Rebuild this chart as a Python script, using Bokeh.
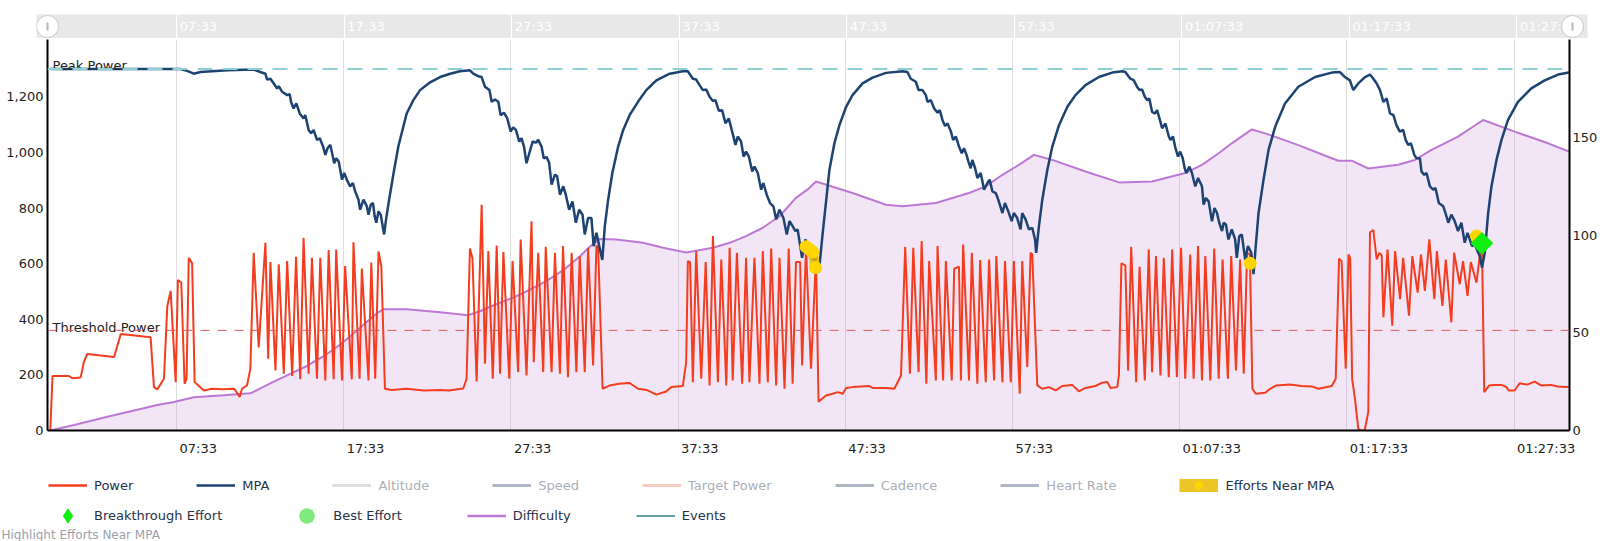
from math import pi
from bokeh.plotting import figure
from bokeh.models import (Range1d, LinearAxis, FixedTicker, NumeralTickFormatter,
                          Legend, LegendItem, Span, Label)
from bokeh.layouts import column
from bokeh.embed import file_html
from bokeh.resources import INLINE
from bokeh.core.properties import value

FONT = "DejaVu Sans"
FS = 13

# ---------------- data ----------------
tick_seconds = [453, 1053, 1653, 2253, 2853, 3453, 4053, 4653, 5253]
tick_labels = ["07:33", "17:33", "27:33", "37:33", "47:33", "57:33",
               "01:07:33", "01:17:33", "01:27:33"]
power_ticks = [0, 200, 400, 600, 800, 1000, 1200]
diff_ticks = [0, 50, 100, 150]
x_start, x_end = -10, 5452
power_max = 1406
diff_max = 200
peak_power = 1300
threshold_power = 360

power_t = [0, 8, 67, 79, 109, 121, 133, 229, 253, 360, 372, 384, 408, 420, 432, 450, 458, 470, 482, 489,
           497, 509, 518, 551, 580, 617, 660, 680, 688, 706, 718,
           730, 748, 772, 782, 790, 808, 820, 838, 850, 868, 882, 897, 909, 927, 939, 957, 969, 987, 999,
           1017, 1026, 1047, 1058, 1082, 1088, 1110, 1118, 1142, 1152, 1166, 1178, 1188, 1201,
           1225, 1279, 1340, 1399, 1430, 1482, 1494,
           1506, 1515, 1530, 1548, 1560, 1572, 1588, 1602, 1614, 1626, 1647, 1659, 1679, 1688, 1709, 1727,
           1735, 1751, 1769, 1778, 1799, 1811, 1829, 1840, 1858, 1871, 1888, 1900, 1918, 1930, 1948, 1960,
           1966, 1982,
           2008, 2040, 2079, 2109, 2140, 2175, 2210, 2229, 2270, 2282,
           2288, 2296, 2306, 2318, 2336, 2352, 2366, 2378, 2396, 2408, 2426, 2438, 2449, 2464, 2483, 2497,
           2509, 2527, 2545, 2557, 2575, 2587, 2605, 2617, 2635, 2650, 2664, 2676, 2691, 2698, 2712, 2730,
           2748, 2757,
           2784, 2808, 2826, 2844, 2856, 2879, 2939, 2951, 2999, 3029, 3053,
           3068, 3085, 3097, 3116, 3127, 3144, 3154, 3178, 3184, 3204, 3214, 3235, 3244, 3261, 3268, 3276,
           3297, 3307, 3327, 3337, 3357, 3369, 3387, 3395, 3417, 3426, 3447, 3458, 3479, 3488, 3506, 3518,
           3524, 3542,
           3560, 3584, 3608, 3632, 3667, 3691, 3715, 3751, 3775, 3793, 3805, 3829, 3835,
           3844, 3858, 3868, 3879, 3897, 3909, 3928, 3942, 3954, 3968, 3984, 3996, 4014, 4026, 4043, 4058,
           4073, 4091, 4103, 4119, 4133, 4145, 4163, 4177, 4193, 4207, 4226, 4238, 4255, 4270, 4283, 4295,
           4305, 4314, 4326,
           4360, 4378, 4400, 4449, 4490, 4530, 4551, 4599, 4613,
           4625, 4634, 4649, 4659, 4665, 4672, 4682, 4694, 4703, 4717, 4730, 4736, 4748, 4760, 4770, 4778,
           4784, 4799, 4816, 4826, 4844, 4855, 4876, 4888, 4907, 4919, 4933, 4949, 4967, 4976, 4996, 5008,
           5028, 5038, 5058, 5070, 5086, 5098, 5118, 5130, 5138, 5146,
           5164, 5180, 5208, 5226, 5234, 5255, 5273, 5300, 5327, 5350, 5385, 5410, 5435, 5450]
power_w = [0, 196, 196, 188, 191, 248, 275, 264, 347, 335, 156, 148, 186, 448, 502, 174, 541, 532, 168, 186,
           621, 601, 174, 144, 150, 148, 150, 121, 150, 162, 222,
           639, 299, 675, 258, 606, 216, 598, 204, 609, 196, 625, 184, 693, 204, 621, 186, 621, 180, 649,
           184, 651, 180, 591, 184, 677, 186, 582, 180, 604, 186, 644, 590, 150,
           146, 150, 144, 146, 144, 151, 186,
           654, 620, 176, 812, 240, 645, 186, 665, 204, 642, 186, 609, 210, 687, 198, 752,
           246, 639, 210, 661, 210, 639, 204, 663, 192, 639, 210, 627, 210, 657, 234, 665,
           660, 150,
           162, 168, 171, 150, 146, 129, 140, 156, 160, 246,
           609, 605, 174, 645, 186, 606, 162, 699, 174, 615, 162, 657, 180, 639, 168, 621,
           174, 621, 168, 645, 174, 654, 162, 621, 150, 654, 168, 606, 606, 234, 657, 222,
           627, 103,
           126, 132, 138, 132, 153, 156, 160, 153, 153, 150, 198,
           661, 204, 657, 210, 681, 168, 609, 180, 663, 180, 609, 180, 582, 589, 180, 669,
           180, 639, 168, 613, 174, 615, 180, 627, 174, 609, 174, 609, 132, 609, 228, 639,
           633, 162,
           150, 156, 144, 160, 164, 141, 153, 160, 172, 174, 153, 156, 198,
           601, 594, 216, 661, 174, 589, 180, 651, 210, 627, 198, 621, 192, 651, 192, 657,
           186, 633, 186, 663, 180, 627, 180, 654, 186, 615, 186, 627, 216, 615, 204, 639,
           633, 150, 132,
           136, 150, 162, 165, 160, 158, 150, 160, 186,
           618, 609, 222, 633, 620, 186, 114, 7, 0, 0, 67, 713, 721, 615, 639, 630,
           407, 651, 377, 645, 472, 621, 413, 627, 496, 633, 502, 687, 472, 645, 448, 615,
           389, 639, 526, 609, 484, 606, 532, 627, 663, 138,
           162, 164, 164, 156, 144, 144, 170, 165, 176, 162, 164, 158, 156, 156]

mpa_t = [0, 467, 491, 515, 539, 635, 730,
         754, 772, 778, 790, 802, 814, 820, 832, 850, 859, 864, 873, 883, 895, 909, 915, 927, 936, 945,
         957, 967, 979, 987, 995, 1005, 1014, 1019, 1026, 1035, 1047, 1055, 1064, 1076, 1086, 1094,
         1106, 1112, 1124, 1136, 1142, 1150, 1158, 1164, 1170, 1178, 1186, 1198,
         1205, 1214, 1232, 1249, 1261, 1279, 1303, 1327,
         1363, 1399, 1435, 1470, 1506, 1518, 1536, 1548, 1560, 1576, 1584, 1596, 1608, 1616, 1628, 1640,
         1652, 1661, 1671, 1683, 1691, 1700, 1709, 1719, 1731, 1743, 1751, 1763, 1771, 1781, 1790, 1799,
         1811, 1819, 1829, 1841, 1850, 1862, 1874, 1886, 1898, 1910, 1918, 1930, 1942, 1950, 1960, 1970,
         1981, 1990, 2002, 2017, 2038, 2056, 2079, 2109, 2139, 2175, 2223, 2270, 2288, 2306, 2318, 2330,
         2342, 2354, 2366, 2378, 2387, 2399, 2411, 2423, 2435, 2450, 2459, 2467, 2479, 2488, 2497, 2507,
         2519, 2527, 2539, 2551, 2559, 2571, 2583, 2595, 2605, 2617, 2631, 2643, 2653, 2664, 2674, 2682,
         2698, 2710, 2724, 2736, 2746, 2758, 2772, 2786, 2796,
         2814, 2832, 2856, 2879, 2915, 2951, 2999, 3059, 3076, 3088, 3106, 3116, 3130, 3142, 3148, 3160,
         3172, 3184, 3192, 3202, 3211, 3220, 3232, 3240, 3250, 3261, 3271, 3279, 3288, 3295, 3303, 3309,
         3319, 3327, 3339, 3345, 3351, 3363, 3371, 3381, 3393, 3402, 3417, 3426, 3438, 3450, 3458, 3470,
         3482, 3488, 3500, 3512, 3524, 3534, 3538, 3548, 3560, 3578, 3596, 3620, 3650, 3679, 3715, 3763,
         3811, 3847, 3858, 3876, 3888, 3900, 3909, 3918, 3928, 3936, 3944, 3954, 3964, 3972, 3984, 3990,
         4002, 4014, 4020, 4029, 4038, 4047, 4055, 4064, 4071, 4077, 4088, 4097, 4109, 4119,
         4133, 4139, 4147, 4157, 4169, 4178, 4187, 4195, 4205, 4211, 4219, 4228, 4240, 4252, 4258, 4267,
         4276, 4288, 4298, 4310, 4318, 4326, 4336, 4354, 4372, 4396, 4431, 4479, 4539, 4599, 4628, 4646,
         4664, 4676, 4694, 4718, 4736, 4748, 4760, 4772, 4784, 4796, 4808, 4820, 4831, 4843, 4855, 4864,
         4873, 4883, 4895, 4903, 4915, 4921, 4931, 4939, 4951, 4963, 4971, 4983, 4999, 5007, 5017, 5028,
         5040, 5052, 5064, 5076, 5086, 5094, 5102, 5112, 5130, 5138, 5148, 5160, 5172, 5190, 5208, 5231,
         5267, 5315, 5363, 5411, 5450]
mpa_w = [1300, 1300, 1293, 1283, 1289, 1295, 1298,
         1289, 1283, 1262, 1265, 1248, 1230, 1238, 1218, 1206, 1209, 1182, 1158, 1176, 1140, 1122, 1134,
         1081, 1069, 1081, 1045, 1051, 1021, 991, 1015, 1027, 985, 961, 979, 967, 902, 926, 902, 878, 890,
         860, 830, 794, 830, 806, 776, 812, 818, 771, 747, 788, 776, 705,
         759, 818, 926, 1021, 1069, 1140, 1188, 1224,
         1252, 1271, 1283, 1292, 1295, 1283, 1274, 1271, 1236, 1224, 1182, 1190, 1182, 1134, 1143, 1122,
         1075, 1090, 1081, 1039, 1051, 1021, 961, 997, 1039, 1035, 1045, 1021, 979, 983, 964, 884,
         920, 914, 848, 878, 848, 794, 824, 747, 794, 776, 705, 764, 764, 663, 711, 663,
         613, 735, 830, 926, 1021, 1081, 1134, 1182, 1224, 1259, 1283, 1292, 1292, 1265, 1262, 1242,
         1224, 1226, 1200, 1185, 1188, 1150, 1152, 1105, 1122, 1063, 1027, 1057, 1039, 985, 1003, 985,
         931, 949, 926, 866, 890, 848, 818, 806, 759, 794, 764, 705, 753, 735, 717, 723,
         621, 687, 639, 615, 615, 568, 711, 842, 937,
         1033, 1098, 1164, 1206, 1248, 1269, 1286, 1292, 1289, 1265, 1254, 1224, 1224, 1206, 1182, 1188,
         1158, 1143, 1152, 1116, 1095, 1104, 1075, 1045, 1057, 1021, 997, 1015, 991, 967, 943, 973,
         943, 908, 926, 896, 866, 890, 902, 860, 854, 830, 782, 818, 788, 753, 782, 764,
         723, 782, 759, 723, 729, 687, 639, 735, 830, 937, 1021, 1098, 1164, 1206, 1242, 1271,
         1287, 1292, 1289, 1265, 1260, 1236, 1224, 1226, 1200, 1188, 1194, 1146, 1140, 1152, 1110, 1087,
         1104, 1057, 1045, 1057, 1015, 985, 1003, 979, 943, 926, 949, 926, 878, 908,
         878, 812, 836, 824, 752, 800, 782, 747, 717, 747, 741, 687, 723, 687, 621, 699,
         705, 615, 663, 639, 562, 663, 782, 902, 1009, 1093, 1176, 1236, 1271, 1287, 1289, 1271,
         1259, 1224, 1248, 1271, 1280, 1265, 1248, 1224, 1182, 1194, 1140, 1134, 1098, 1075, 1081, 1045,
         1027, 1033, 991, 979, 979, 931, 919, 926, 878, 866, 872, 818, 806, 782, 747, 776,
         753, 717, 747, 675, 711, 687, 663, 669, 627, 586, 639, 782, 878, 973, 1045, 1116,
         1182, 1230, 1259, 1280, 1287]

diff_t = [0, 85, 205, 324, 384, 444, 515, 623, 718, 802, 861, 921, 981, 1041, 1100, 1148, 1172, 1196,
          1279, 1399, 1500, 1542, 1602, 1661, 1721, 1781, 1841, 1900, 1936, 1972, 2032, 2127, 2199, 2282,
          2378, 2438, 2497, 2557, 2617, 2676, 2724, 2748, 2879, 2999, 3059, 3178, 3297, 3357, 3417, 3476,
          3530, 3596, 3715, 3835, 3954, 4073, 4133, 4193, 4240, 4312, 4360, 4479, 4622, 4670, 4730, 4837,
          4897, 4957, 5052, 5112, 5142, 5255, 5375, 5450]
diff_v = [0, 2.8, 7, 11, 13, 14.6, 17, 18, 19, 25, 29, 33, 38, 44, 51, 57, 60, 62,
          62, 60.5, 59, 61, 64.7, 68, 72, 76.5, 82, 89, 94, 98, 97.7, 96, 93.5, 91,
          93.5, 96, 99.4, 103.7, 109.6, 119, 124, 127.4, 121.5, 115.5, 114.7, 116.4, 121.5, 124.9, 130.8, 135.9,
          141, 138.4, 132.5, 126.9, 127.4, 131.7, 135.9, 141.8, 146.9, 154, 152, 146, 138, 138, 134, 135.9,
          138.4, 143.5, 150.3, 156, 158.8, 152.9, 146.9, 142.7]

near_t = [2712, 2724, 2736, 2746, 4306, 5118]
near_w = [661, 652, 642, 586, 601, 699]
near_run_t = [[2712, 2724, 2736, 2746]]
near_run_w = [[661, 652, 642, 586]]
break_t = [5138]
break_w = [673]

# ---------------- styles ----------------
C_POWER = "#f43c1e"
C_MPA = "#1d4373"
C_DIFF = "#bd78d6"
C_NEAR_LINE = "#e8bc00"
C_NEAR_PT = "#ffd500"
C_BREAK = "#11ee11"
C_BEST = "#80ea80"
C_EVENTS = "#2f7f8e"

# ---------------- layout constants ----------------
W = 1600
BL, BR = 47, 28
NAV_H, MAIN_H, LEG_H = 38, 420, 83
frame_w = W - BL - BR
s_per_px = (x_end - x_start) / frame_w


def text_width(s):
    return sum(0.636 * FS if ch.isdigit() else 0.337 * FS for ch in s)


# label anchors: labels start 3px right of their gridline
label_pos = [round(t + (3 + text_width(l) / 2) * s_per_px) for t, l in zip(tick_seconds, tick_labels)]


def style_axis(ax, standoff):
    ax.axis_line_color = "black"
    ax.axis_line_width = 2
    ax.major_tick_line_color = None
    ax.minor_tick_line_color = None
    ax.major_tick_out = 0
    ax.major_tick_in = 0
    ax.minor_tick_out = 0
    ax.minor_tick_in = 0
    ax.major_label_standoff = standoff
    ax.major_label_text_font = FONT
    ax.major_label_text_font_size = f"{FS}px"
    ax.major_label_text_color = "#222222"


# ---------------- main figure ----------------
p = figure(width=W, height=MAIN_H, x_range=Range1d(x_start, x_end), y_range=Range1d(0, power_max),
           output_backend="svg", toolbar_location=None,
           min_border_left=BL, min_border_right=BR, min_border_top=1, min_border_bottom=26)
p.frame_align = False
p.outline_line_color = None
p.background_fill_color = "white"
p.border_fill_color = "white"
p.extra_y_ranges = {"diff": Range1d(0, diff_max)}

xa = p.xaxis[0]
xa.ticker = FixedTicker(ticks=label_pos)
xa.major_label_overrides = {pos: lab for pos, lab in zip(label_pos, tick_labels)}
style_axis(xa, 10)

ya = p.yaxis[0]
ya.ticker = FixedTicker(ticks=power_ticks)
ya.formatter = NumeralTickFormatter(format="0,0")
style_axis(ya, 4)

ra = LinearAxis(y_range_name="diff", ticker=FixedTicker(ticks=diff_ticks))
style_axis(ra, 3)
p.add_layout(ra, "right")

p.xgrid.ticker = FixedTicker(ticks=tick_seconds)
p.xgrid.grid_line_color = "#dedede"
p.xgrid.grid_line_width = 1
p.ygrid.visible = False

p.varea(x=diff_t, y1=[0] * len(diff_t), y2=diff_v, y_range_name="diff",
        fill_color="#c58fd6", fill_alpha=0.22)
p.line(diff_t, diff_v, y_range_name="diff", line_color=C_DIFF, line_width=2)
p.line(power_t, power_w, line_color=C_POWER, line_width=2)
p.line(mpa_t, mpa_w, line_color=C_MPA, line_width=2.5)

p.add_layout(Span(location=peak_power, dimension="width", line_color="#8fd0d2",
                  line_dash="15 10", line_width=2))
p.add_layout(Span(location=threshold_power, dimension="width", line_color="#e05a5a",
                  line_dash="9 8", line_width=1))
p.text(x=[x_start], y=[peak_power], text=["Peak Power"], x_offset=5, y_offset=-3,
       text_baseline="alphabetic", text_align="left", text_font=value(FONT),
       text_font_size=f"{FS}px", text_color="#222222")
p.text(x=[x_start], y=[threshold_power], text=["Threshold Power"], x_offset=5, y_offset=-3,
       text_baseline="alphabetic", text_align="left", text_font=value(FONT),
       text_font_size=f"{FS}px", text_color="#222222")

p.multi_line(xs=near_run_t, ys=near_run_w, line_color=C_NEAR_LINE, line_width=10, line_alpha=0.8)
p.scatter(near_t, near_w, marker="circle", size=13, fill_color=C_NEAR_PT, line_color=None)
p.scatter(break_t, break_w, marker="square", angle=pi / 4, size=16, fill_color=C_BREAK, line_color=None)

# ---------------- legend strip ----------------
lg = figure(width=W, height=LEG_H, x_range=Range1d(0, 1), y_range=Range1d(0, 1),
            output_backend="svg", toolbar_location=None,
            x_axis_location=None, y_axis_location=None,
            min_border_left=0, min_border_right=0, min_border_top=0, min_border_bottom=0)
lg.frame_align = False
lg.outline_line_color = None
lg.xgrid.visible = False
lg.ygrid.visible = False

NA = [float("nan")]  # legend swatches only: one empty point so a swatch is drawn
g_power = lg.line(NA, NA, line_color=C_POWER, line_width=2.5)
g_mpa = lg.line(NA, NA, line_color=C_MPA, line_width=2.5)
g_alt = lg.line(NA, NA, line_color="#acacac", line_width=3, visible=False)
g_spd = lg.line(NA, NA, line_color="#394d6b", line_width=3, visible=False)
g_tgt = lg.line(NA, NA, line_color="#e68269", line_width=3, visible=False)
g_cad = lg.line(NA, NA, line_color="#394d6b", line_width=3, visible=False)
g_hr = lg.line(NA, NA, line_color="#394d6b", line_width=3, visible=False)
g_near_l = lg.line(NA, NA, line_color=C_NEAR_LINE, line_width=13, line_alpha=0.85)
g_near_p = lg.scatter(NA, NA, marker="circle", fill_color=C_NEAR_PT, line_color=None)
g_break = lg.scatter(NA, NA, marker="diamond", fill_color=C_BREAK, line_color=None)
g_best = lg.scatter(NA, NA, marker="circle", fill_color=C_BEST, line_color=None)
g_diff = lg.line(NA, NA, line_color=C_DIFF, line_width=2.5)
g_events = lg.line(NA, NA, line_color=C_EVENTS, line_width=1.5)


def make_legend(items, gh, loc, spacing):
    return Legend(items=items, location=loc, orientation="horizontal", click_policy="hide",
                  glyph_width=39, glyph_height=gh, label_height=gh, label_standoff=7,
                  spacing=spacing, padding=0, margin=0, border_line_color=None,
                  background_fill_alpha=0, label_text_font=FONT, label_text_font_size=f"{FS}px",
                  label_text_color="#26324a", inactive_fill_color="white", inactive_fill_alpha=0.6)


leg1 = make_legend([
    LegendItem(label="Power", renderers=[g_power]),
    LegendItem(label="MPA", renderers=[g_mpa]),
    LegendItem(label="Altitude", renderers=[g_alt]),
    LegendItem(label="Speed", renderers=[g_spd]),
    LegendItem(label="Target Power", renderers=[g_tgt]),
    LegendItem(label="Cadence", renderers=[g_cad]),
    LegendItem(label="Heart Rate", renderers=[g_hr]),
    LegendItem(label="Efforts Near MPA", renderers=[g_near_l, g_near_p]),
], 20, (48, 46), 63)
leg2 = make_legend([
    LegendItem(label="Breakthrough Effort", renderers=[g_break]),
    LegendItem(label="Best Effort", renderers=[g_best]),
    LegendItem(label="Difficulty", renderers=[g_diff]),
    LegendItem(label="Events", renderers=[g_events]),
], 39, (48, 6), 65)
lg.add_layout(leg1)
lg.add_layout(leg2)
lg.add_layout(Label(x=1, y=0, x_units="screen", y_units="screen", text="Highlight Efforts Near MPA",
                    text_font=FONT, text_font_size="12px", text_color="#9aa1ac",
                    text_baseline="bottom"))

# ---------------- navigator band ----------------
NAV_L, NAV_R = 11, 15
nav_start = x_start - NAV_L * s_per_px
nav_end = x_end + NAV_R * s_per_px
nav = figure(width=W, height=NAV_H, x_range=Range1d(nav_start, nav_end), y_range=Range1d(0, 1),
             output_backend="svg", toolbar_location=None,
             x_axis_location=None, y_axis_location=None,
             min_border_left=BL - NAV_L, min_border_right=BR - NAV_R, min_border_top=14, min_border_bottom=0)
nav.frame_align = False
nav.outline_line_color = None
nav.background_fill_color = "#e8e8e8"
nav.border_fill_color = "white"
nav.xgrid.ticker = FixedTicker(ticks=tick_seconds)
nav.xgrid.grid_line_color = "white"
nav.xgrid.grid_line_width = 1
nav.ygrid.visible = False
nav.text(x=tick_seconds, y=[0.5] * len(tick_seconds), text=tick_labels, x_offset=3,
         text_align="left", text_baseline="middle", text_color="white",
         text_font=value(FONT), text_font_size=f"{FS}px")
nav.scatter(x=[x_start, x_end], y=[0.5, 0.5], marker="circle", size=22,
            fill_color="white", line_color="#c8c8c8", line_width=1)
nav.scatter(x=[x_start, x_end], y=[0.5, 0.5], marker="dash", angle=pi / 2, size=8,
            line_color="#b8b8b8", line_width=2)

layout = column(nav, p, lg, spacing=0)
open("out.html", "w").write(file_html(layout, INLINE))
